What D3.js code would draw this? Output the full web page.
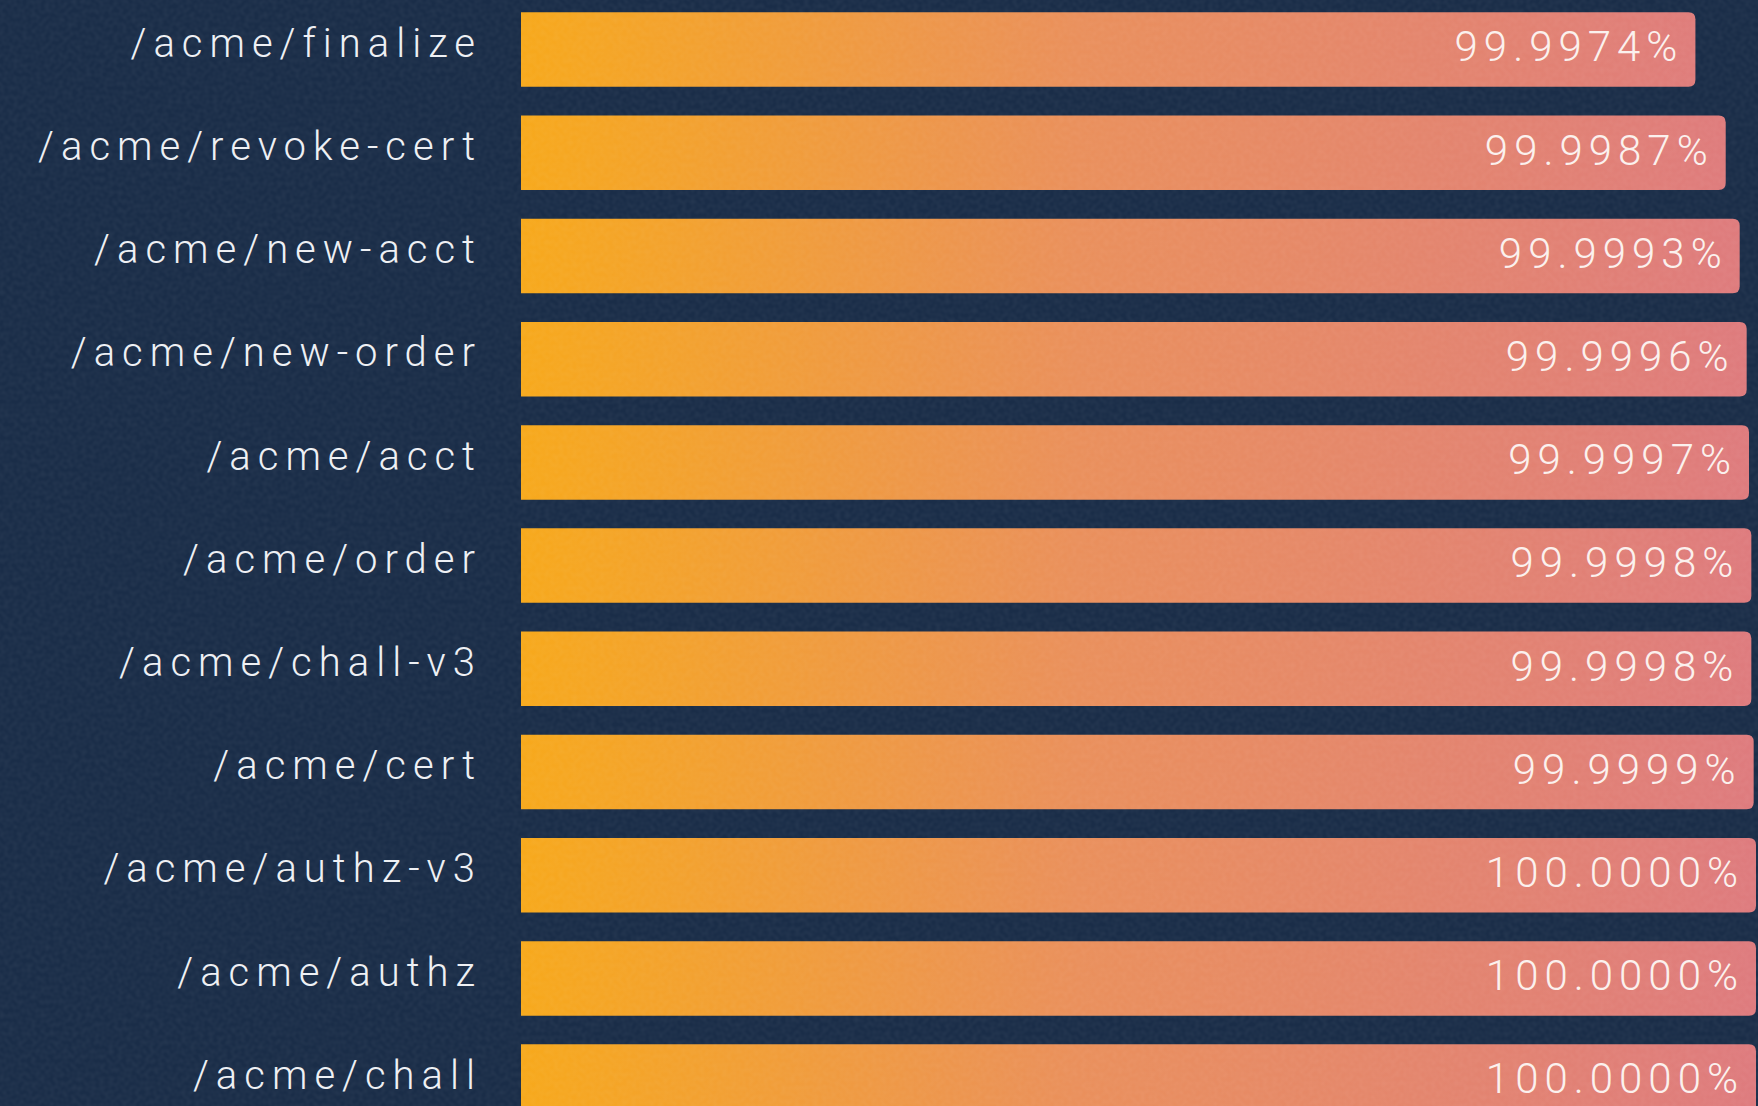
<!DOCTYPE html>
<html>
<head>
<meta charset="utf-8">
<script src="https://cdn.jsdelivr.net/npm/d3@7"></script>
<style>
  html, body { margin: 0; padding: 0; background: #1a2d48; overflow: hidden; }
  svg { display: block; }
</style>
</head>
<body>
<svg id="chart" width="1758" height="1106"></svg>
<script>
// ---- data ----
const categories = [
  "/acme/finalize",
  "/acme/revoke-cert",
  "/acme/new-acct",
  "/acme/new-order",
  "/acme/acct",
  "/acme/order",
  "/acme/chall-v3",
  "/acme/cert",
  "/acme/authz-v3",
  "/acme/authz",
  "/acme/chall"
];
const values = [99.9974, 99.9987, 99.9993, 99.9996, 99.9997, 99.9998, 99.9998, 99.9999, 100.0000, 100.0000, 100.0000];
const xDomain = [99.947, 100];

// ---- layout ----
const W = 1758, H = 1106;
const barLeft = 521, barRight = 1756;
const svg = d3.select("#chart");

const data = categories.map((c, i) => ({ cat: c, value: values[i] }));

const x = d3.scaleLinear().domain(xDomain).range([barLeft, barRight]);
const y = d3.scaleBand().domain(categories).range([-2, -2 + 11 * 103.2]).paddingInner(0.278).paddingOuter(0.139);

const defs = svg.append("defs");
const grad = defs.append("linearGradient")
  .attr("id", "barGrad").attr("gradientUnits", "userSpaceOnUse")
  .attr("x1", barLeft).attr("x2", barRight).attr("y1", 0).attr("y2", 0);
grad.append("stop").attr("offset", "0%").attr("stop-color", "#f7a91c");
grad.append("stop").attr("offset", "45%").attr("stop-color", "#ea905c");
grad.append("stop").attr("offset", "100%").attr("stop-color", "#de7b7e");

const noise = defs.append("filter").attr("id", "noise")
  .attr("x", 0).attr("y", 0).attr("width", "100%").attr("height", "100%")
  .attr("filterUnits", "userSpaceOnUse");
noise.append("feTurbulence").attr("type", "fractalNoise")
  .attr("baseFrequency", "0.22").attr("numOctaves", 1).attr("seed", 7).attr("result", "t");
noise.append("feColorMatrix").attr("type", "matrix")
  .attr("values", "0 0 0 0 1  0 0 0 0 1  0 0 0 0 1  0.08 0 0 0 -0.025");

// background
svg.append("rect").attr("width", W).attr("height", H).attr("fill", "#1a2d48");

// bars: square left, rounded right corners
const r = 7;
function barPath(d) {
  const x0 = x.range()[0], x1 = x(d.value);
  const y0 = y(d.cat), h = y.bandwidth();
  return `M${x0},${y0}H${x1 - r}Q${x1},${y0} ${x1},${y0 + r}V${y0 + h - r}Q${x1},${y0 + h} ${x1 - r},${y0 + h}H${x0}Z`;
}

const rows = svg.append("g").selectAll("g").data(data).join("g");

rows.append("path")
  .attr("d", barPath)
  .attr("fill", "url(#barGrad)");

const fmt = d3.format(".4f");
const ls = 7;

rows.append("text")
  .attr("x", 475 + ls)
  .attr("y", d => y(d.cat) + y.bandwidth() / 2)
  .attr("dy", "0.18em")
  .attr("text-anchor", "end")
  .attr("fill", "#eef0f4")
  .style("font-family", "'Roboto Light', Roboto, 'Open Sans', sans-serif")
  .style("font-weight", 300)
  .style("font-size", "40px")
  .style("letter-spacing", ls + "px")
  .text(d => d.cat);

rows.append("text")
  .attr("x", d => x(d.value) - 12)
  .attr("y", d => y(d.cat) + y.bandwidth() / 2)
  .attr("dy", "0.28em")
  .attr("text-anchor", "end")
  .attr("fill", "#fbf1ee")
  .style("font-family", "'Roboto Light', Roboto, 'Open Sans', sans-serif")
  .style("font-weight", 300)
  .style("font-size", "42px")
  .style("letter-spacing", "6px")
  .text(d => fmt(d.value) + "%");

// subtle texture overlay
svg.append("rect").attr("width", W).attr("height", H)
  .attr("filter", "url(#noise)").attr("pointer-events", "none");
</script>
</body>
</html>
